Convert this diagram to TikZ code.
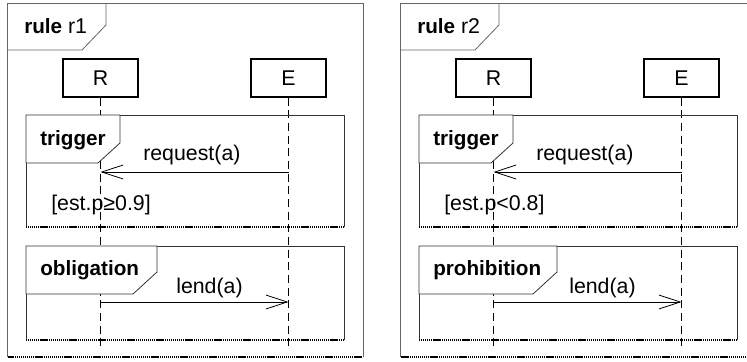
\documentclass[tikz,border=0pt]{standalone}
\usepackage{fontspec}
\setmainfont{Liberation Sans}
\usetikzlibrary{arrows.meta}

\tikzset{
  outerframe/.style={draw=black!60, line width=0.6pt},
  innerframe/.style={draw=black!80, line width=0.6pt},
  tabshape/.style={draw=black!80, fill=white, line width=0.6pt},
  dotedge/.style={draw=black, line width=1.1pt, dash pattern=on 0.9pt off 0.55pt},
  lifebox/.style={draw=black, line width=0.9pt, minimum width=56.25pt,
    minimum height=28.5pt, inner sep=0pt, font=\fontsize{16}{19}\selectfont},
  lifeline/.style={draw=black, line width=0.6pt, dash pattern=on 6pt off 3.5pt},
  msg/.style={draw=black, line width=0.6pt,
    -{Straight Barb[length=16pt,width=10.5pt,line width=0.6pt]}},
  txt/.style={font=\fontsize{16}{19}\selectfont, inner sep=0pt, anchor=base west},
  boldtxt/.style={font=\fontsize{15.5}{19}\selectfont\bfseries, inner sep=0pt, anchor=base west},
}

% #1 name suffix, #2 horizontal shift, #3 rule name, #4 guard,
% #5 modality, #6 tab right edge, #7 tab lower corner
\newcommand\rulepanel[7]{%
  \begin{scope}[shift={(#2,0)}]
    % outer rule frame with its title tab
    \path[outerframe] (7.5,357) -- (7.5,3) -- (363,3) -- (363,357);
    \path[dotedge] (7.5,357) -- (363,357);
    \path[outerframe] (7.5,50) -- (82,50) -- (106,25) -- (106,3);
    \node[txt] (title#1) at (24,33) {{\bfseries\fontsize{15.5}{19}\selectfont rule} #3};
    % participants and lifelines
    \node[lifebox] (R#1) at (100.5,78) {R};
    \node[lifebox] (E#1) at (288.5,78) {E};
    \coordinate (Rend#1) at (100.5,350);
    \coordinate (Eend#1) at (288.5,350);
    \path[lifeline] (R#1.south) -- (Rend#1);
    \path[lifeline] (E#1.south) -- (Eend#1);
    % trigger fragment
    \path[innerframe] (26,227) -- (26,115) -- (344,115) -- (344,227);
    \path[dotedge] (26,227) -- (344,227);
    \path[tabshape] (26,115) -- (26,163) -- (98,163) -- (120,143) -- (120,115) -- cycle;
    \node[boldtxt] (trig#1) at (40,145) {trigger};
    \coordinate (qE#1) at (288.5,172);
    \coordinate (qR#1) at (100.5,172);
    \draw[msg] (qE#1) -- (qR#1);
    \node[txt] (req#1) at (143,160) {request(a)};
    \node[txt] (guard#1) at (51,210) {[est.p#4]};
    % deontic fragment
    \path[innerframe] (26,340) -- (26,246) -- (344,246) -- (344,340);
    \path[dotedge] (26,340) -- (344,340);
    \path[tabshape] (26,246) -- (26,294) -- (#7,294) -- (#6,272) -- (#6,246) -- cycle;
    \node[boldtxt] (mod#1) at (40,275) {#5};
    \coordinate (lR#1) at (100.5,302);
    \coordinate (lE#1) at (288.5,302);
    \draw[msg] (lR#1) -- (lE#1);
    \node[txt] (lend#1) at (176,293) {lend(a)};
  \end{scope}%
}

\begin{document}
\begin{tikzpicture}[x=0.75pt, y=-0.75pt]
  \useasboundingbox (0,0) rectangle (747,361);
  \rulepanel{a}{0}{r1}{≥0.9}{obligation}{157}{133}
  \rulepanel{b}{393}{r2}{<0.8}{prohibition}{164}{140}
\end{tikzpicture}
\end{document}
